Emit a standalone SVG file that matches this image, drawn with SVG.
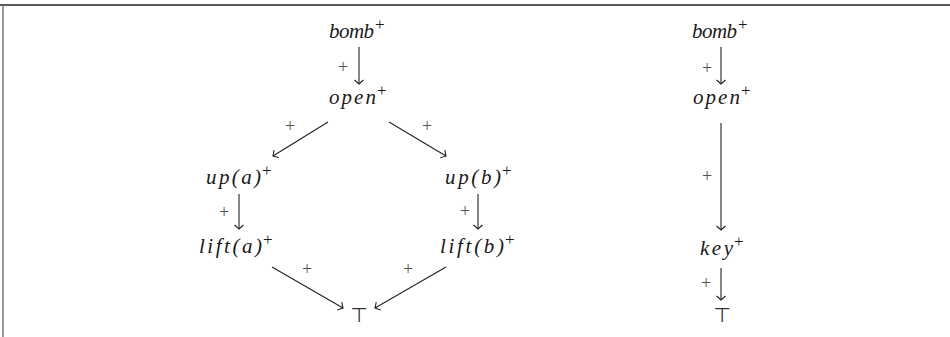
<svg xmlns="http://www.w3.org/2000/svg" width="950" height="337" viewBox="0 0 950 337">
<style>
.w{font-family:"Liberation Serif",serif;font-style:italic;font-size:21px;fill:#1a1a1a}
.s{font-family:"Liberation Serif",serif;font-size:17px;fill:#1a1a1a}
.l{font-family:"Liberation Serif",serif;font-size:18px;fill:#555;text-anchor:middle}
.t{font-family:"DejaVu Sans",sans-serif;font-size:20px;fill:#333;text-anchor:middle}
.e{stroke:#222;stroke-width:1.1;fill:none;marker-end:url(#to)}
</style>
<defs>
<marker id="to" markerUnits="userSpaceOnUse" markerWidth="12" markerHeight="12" viewBox="-6 -6 12 12" refX="0" refY="0" orient="auto">
<path d="M-4,-4.5 Q-1,-1 0,0 Q-1,1 -4,4.5" fill="none" stroke="#222" stroke-width="1.1"/>
</marker>
</defs>
<rect width="950" height="337" fill="#fff"/>
<line x1="0" y1="5" x2="950" y2="5" stroke="#222" stroke-width="1.5"/>
<line x1="3" y1="5" x2="3" y2="337" stroke="#777" stroke-width="1.5"/>
<g id="connectors">
<line class="e" x1="359" y1="47" x2="359" y2="84"/>
<line class="e" x1="328" y1="122" x2="273" y2="156"/>
<line class="e" x1="389" y1="122" x2="446" y2="156"/>
<line class="e" x1="239" y1="194" x2="239" y2="229"/>
<line class="e" x1="478" y1="194" x2="478" y2="229"/>
<line class="e" x1="272" y1="267" x2="343" y2="308"/>
<line class="e" x1="446" y1="267" x2="375" y2="308"/>
<line class="e" x1="721" y1="47" x2="721" y2="84"/>
<line class="e" x1="721" y1="123" x2="721" y2="230"/>
<line class="e" x1="721" y1="268" x2="721" y2="300"/>
<text class="l" x="343" y="73">+</text>
<text class="l" x="290" y="132">+</text>
<text class="l" x="427" y="132">+</text>
<text class="l" x="224" y="218">+</text>
<text class="l" x="465" y="217">+</text>
<text class="l" x="307" y="275">+</text>
<text class="l" x="408" y="275">+</text>
<text class="l" x="707" y="74">+</text>
<text class="l" x="707" y="182">+</text>
<text class="l" x="706" y="289">+</text>
</g>
<g id="bomb1"><text class="w" x="329" y="38" textLength="45" lengthAdjust="spacing">bomb</text><text class="s" x="375" y="30">+</text></g>
<g id="open1"><text class="w" x="329" y="104" textLength="47" lengthAdjust="spacing">open</text><text class="s" x="377" y="96">+</text></g>
<g id="upa"><text class="w" x="206" y="184" textLength="55" lengthAdjust="spacing">up(a)</text><text class="s" x="262" y="176">+</text></g>
<g id="upb"><text class="w" x="445" y="184" textLength="56" lengthAdjust="spacing">up(b)</text><text class="s" x="502" y="176">+</text></g>
<g id="lifta"><text class="w" x="199" y="253" textLength="63" lengthAdjust="spacing">lift(a)</text><text class="s" x="263" y="245">+</text></g>
<g id="liftb"><text class="w" x="440" y="253" textLength="64" lengthAdjust="spacing">lift(b)</text><text class="s" x="505" y="245">+</text></g>
<g id="top1"><text class="t" x="359" y="322">⊤</text></g>
<g id="bomb2"><text class="w" x="692" y="38" textLength="45" lengthAdjust="spacing">bomb</text><text class="s" x="738" y="30">+</text></g>
<g id="open2"><text class="w" x="693" y="104" textLength="47" lengthAdjust="spacing">open</text><text class="s" x="741" y="96">+</text></g>
<g id="key"><text class="w" x="700" y="255" textLength="33" lengthAdjust="spacing">key</text><text class="s" x="734" y="247">+</text></g>
<g id="top2"><text class="t" x="722" y="322">⊤</text></g>
</svg>
